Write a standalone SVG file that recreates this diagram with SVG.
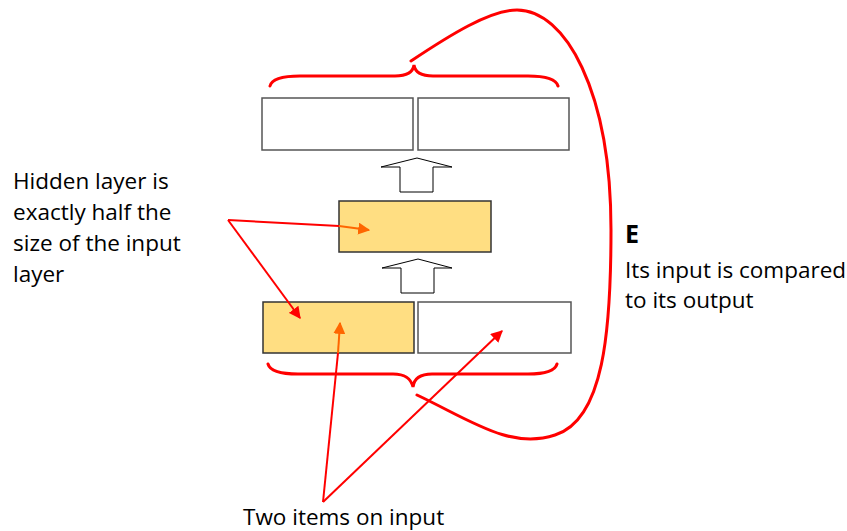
<svg xmlns="http://www.w3.org/2000/svg" width="847" height="531" viewBox="0 0 847 531">
<defs>
<style>
.box{fill:#fff;stroke:#555;stroke-width:1.5}
.hid{fill:#FFDE82;stroke:#333;stroke-width:1.5}
.barrow{fill:#fff;stroke:#000;stroke-width:1}
.brace{fill:none;stroke:#f00;stroke-width:3;stroke-linecap:round}
.red{fill:none;stroke:#f00;stroke-width:2}
.org{fill:none;stroke:#ff6600;stroke-width:2}
.t{font-family:"Open Sans","Liberation Sans",sans-serif;font-size:22.5px;fill:#000}
</style>
<marker id="ar" viewBox="0 0 10 10" refX="9" refY="5" markerWidth="6" markerHeight="6" orient="auto" markerUnits="strokeWidth"><path d="M0,0 L10,5 L0,10 Z" fill="#f00"/></marker>
<marker id="ao" viewBox="0 0 10 10" refX="9" refY="5" markerWidth="6" markerHeight="6" orient="auto" markerUnits="strokeWidth"><path d="M0,0 L10,5 L0,10 Z" fill="#ff6600"/></marker>
</defs>
<rect width="847" height="531" fill="#fff"/>

<g id="output-left"><rect class="box" x="262" y="98" width="151" height="52"/></g>
<g id="output-right"><rect class="box" x="418" y="98" width="151" height="52"/></g>
<g id="arrow-up-1"><path class="barrow" d="M417,158 L452,167 L433,167 L433,192 L400,192 L400,167 L381,167 Z"/></g>
<g id="hidden"><rect class="hid" x="339" y="201" width="152" height="51"/></g>
<g id="arrow-up-2"><path class="barrow" d="M418,259 L452,268 L434,268 L434,293 L401,293 L401,268 L382,268 Z"/></g>
<g id="input-left"><rect class="hid" x="263" y="302" width="151" height="51"/></g>
<g id="input-right"><rect class="box" x="418" y="302" width="153" height="51"/></g>

<g id="braces">
<path class="brace" d="M270,86 C272,78 285,76 300,76 L395,76 C408,76 413,72 414,65 C415,72 420,76 433,76 L528,76 C545,76 556,79 558,86"/>
<path class="brace" d="M268,364 C270,371 282,374 298,374 L393,374 C406,374 411,379 413,387 C414,379 420,374 432,374 L528,374 C545,374 555,371 557,364"/>
<path class="brace" d="M411,61 C450,35 490,10 517,10 C565,10 611,90 611,230 C611,330 604,420 555,435 C510,450 470,420 417,395"/>
</g>

<g id="connectors">
<line class="red" x1="228" y1="220" x2="339" y2="226"/>
<line class="org" x1="339" y1="226" x2="369" y2="230" marker-end="url(#ao)"/>
<line class="red" x1="228" y1="220" x2="300" y2="318" marker-end="url(#ar)"/>
<line class="red" x1="323" y1="502" x2="338" y2="353"/>
<line class="org" x1="338" y1="353" x2="340" y2="323" marker-end="url(#ao)"/>
<line class="red" x1="323" y1="502" x2="502" y2="331" marker-end="url(#ar)"/>
</g>

<g id="labels">
<text class="t" x="13" y="189">Hidden layer is</text>
<text class="t" x="13" y="220">exactly half the</text>
<text class="t" x="13" y="251">size of the input</text>
<text class="t" x="13" y="282">layer</text>
<text class="t" x="625" y="243" style="font-weight:bold;font-size:25px">E</text>
<text class="t" x="625" y="278">Its input is compared</text>
<text class="t" x="625" y="308">to its output</text>
<text class="t" x="243" y="525">Two items on input</text>
</g>
</svg>
